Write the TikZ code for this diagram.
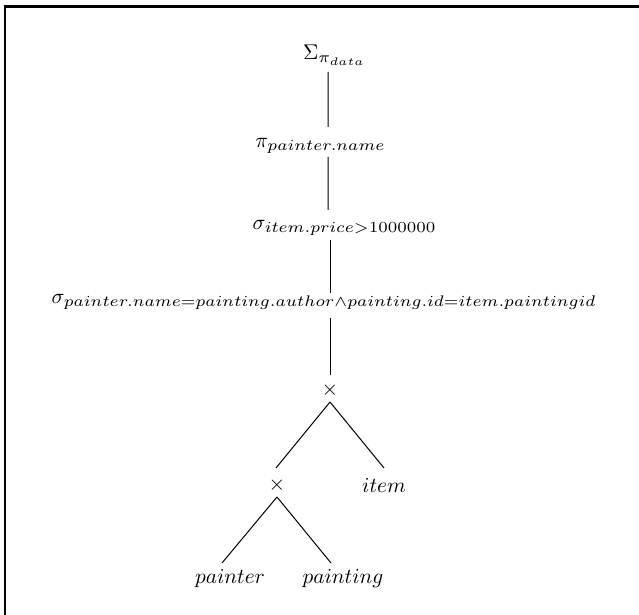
\documentclass[tikz,border=0pt]{standalone}
\usepackage{graphicx}
\newcommand\wsub[1]{\scalebox{1.12}[1.03]{$\scriptstyle #1$}}
\begin{document}
\begin{tikzpicture}[x=0.4695pt,y=-0.4695pt,
  op/.style={inner sep=0pt, font=\normalsize},
  edge/.style={line width=0.47pt},
  frame/.style={line width=1pt}]
\useasboundingbox (0,0) rectangle (639,615);
\draw[frame] (5,615) -- (5,6.5) -- (639,6.5);
\node[op] (agg) at (334.5,55) {$\Sigma_{\wsub{\pi_{data}}}$};
\node[op] (proj) at (320.5,146) {$\pi_{\wsub{painter.name}}$};
\node[op] (selp) at (344.5,228) {$\sigma_{\wsub{item.price>1000000}}$};
\node[op] (selj) at (324,302) {$\sigma_{\wsub{painter.name=painting.author\wedge painting.id=item.paintingid}}$};
\node[op] (x1) at (330,390) {$\times$};
\node[op] (x2) at (277,485) {$\times$};
\node[op] (item) at (384,485) {$item$};
\node[op] (painter) at (230,579) {$painter$};
\node[op] (painting) at (343,579) {$painting$};
\draw[edge] ([shift={(-6.5,17)}]agg.center) -- ([shift={(7.5,-19)}]proj.center);
\draw[edge] ([shift={(7.5,11)}]proj.center) -- ([shift={(-16.5,-18)}]selp.center);
\draw[edge] ([shift={(-14.5,12)}]selp.center) -- ([shift={(6,-9)}]selj.center);
\draw[edge] ([shift={(6,16)}]selj.center) -- ([shift={(0,-15)}]x1.center);
\draw[edge] ([shift={(0,12)}]x1.center) -- ([shift={(-1,-17)}]x2.center);
\draw[edge] ([shift={(0,12)}]x1.center) -- ([shift={(0,-17)}]item.center);
\draw[edge] ([shift={(0,12)}]x2.center) -- ([shift={(-8,-16)}]painter.center);
\draw[edge] ([shift={(0,12)}]x2.center) -- ([shift={(-12,-16)}]painting.center);
\end{tikzpicture}
\end{document}
